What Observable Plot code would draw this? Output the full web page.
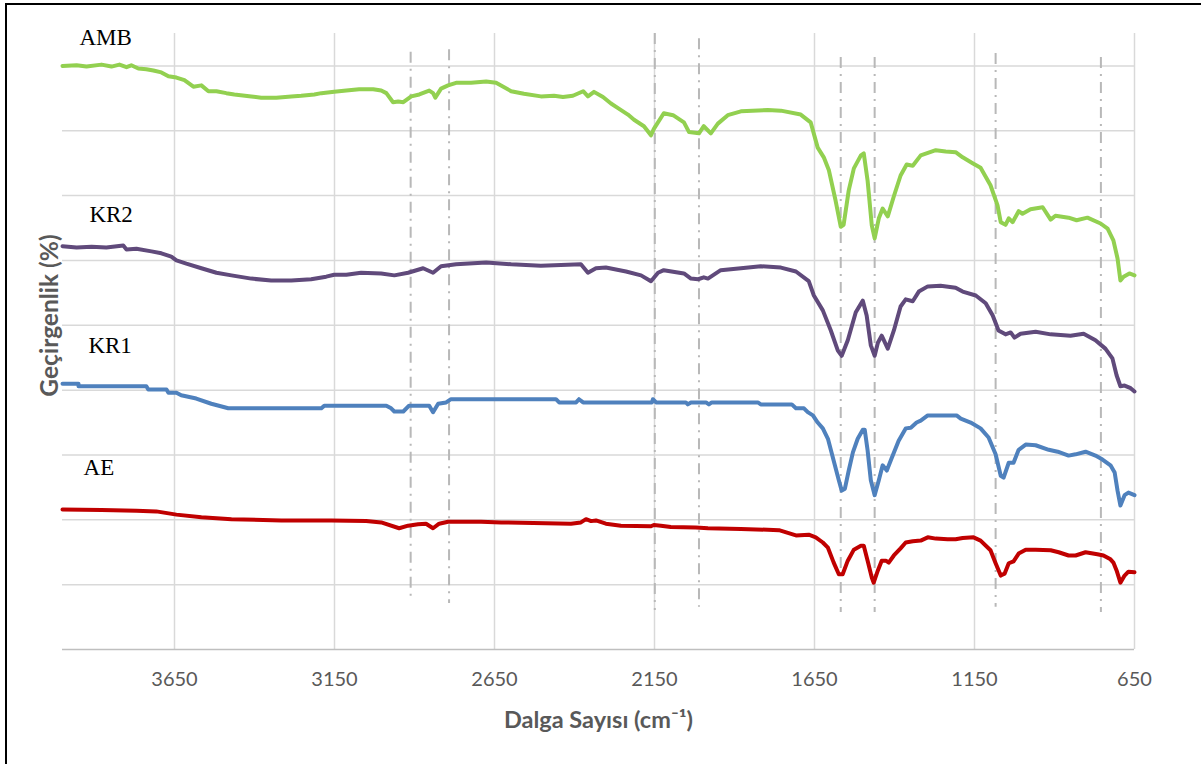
<!DOCTYPE html>
<html>
<head>
<meta charset="utf-8">
<script src="https://cdn.jsdelivr.net/npm/d3@7"></script>
<script src="https://cdn.jsdelivr.net/npm/@observablehq/plot@0.6"></script>
<style>
  body { margin: 0; background: #fff; }
  #wrap { position: relative; width: 1201px; height: 764px; overflow: hidden; background: #fff; }
  #wrap svg { position: absolute; left: 0; top: 0; }
  #frame { position: absolute; left: 5px; top: 3px; width: 1400px; height: 900px;
           border-left: 2.5px solid #000; border-top: 2.5px solid #000; pointer-events: none; }
</style>
</head>
<body>
<div id="wrap"><div id="frame"></div></div>
<script>
// FTIR spectra: [wavenumber (cm-1), transmittance (offset, %)]
const AMB = [[4000,90.0],[3956,90.1],[3925,89.9],[3878,90.2],[3847,89.9],[3822,90.2],[3800,89.8],[3785,90.1],[3763,89.6],[3738,89.5],[3716,89.3],[3691,89.0],[3669,88.4],[3644,88.2],[3619,87.8],[3591,86.8],[3566,87.0],[3544,86.1],[3519,86.1],[3488,85.8],[3463,85.6],[3410,85.3],[3379,85.1],[3332,85.1],[3285,85.3],[3254,85.4],[3213,85.6],[3191,85.8],[3151,86.0],[3113,86.2],[3073,86.4],[3029,86.4],[3004,86.2],[2988,85.8],[2967,84.4],[2951,84.5],[2935,84.4],[2910,85.3],[2885,85.6],[2854,86.2],[2842,85.8],[2835,85.1],[2817,86.5],[2795,87.0],[2770,87.4],[2723,87.4],[2676,87.6],[2645,87.4],[2598,86.1],[2558,85.7],[2505,85.3],[2464,85.4],[2436,85.2],[2405,85.4],[2373,86.1],[2358,85.3],[2339,86.0],[2311,85.2],[2286,84.2],[2264,83.5],[2233,82.5],[2214,81.7],[2183,80.7],[2161,79.3],[2152,80.3],[2121,82.7],[2092,82.4],[2058,81.3],[2042,79.8],[2011,79.6],[1996,80.7],[1974,79.6],[1952,81.1],[1921,82.4],[1880,83.0],[1796,83.2],[1755,83.1],[1693,82.5],[1662,81.3],[1640,77.4],[1621,75.9],[1605,73.9],[1584,69.2],[1568,65.2],[1559,65.5],[1543,70.8],[1527,74.2],[1505,76.2],[1496,76.5],[1484,72.3],[1471,65.4],[1462,63.4],[1449,66.5],[1437,68.0],[1421,66.8],[1402,69.9],[1381,73.1],[1362,74.8],[1343,74.6],[1318,76.2],[1271,77.0],[1240,76.8],[1209,76.7],[1187,75.9],[1156,75.0],[1131,74.3],[1100,71.6],[1078,68.5],[1068,65.9],[1053,65.5],[1043,66.5],[1031,65.9],[1012,67.6],[1000,67.2],[975,67.9],[937,68.2],[912,66.3],[897,66.9],[856,66.6],[831,66.2],[797,66.6],[756,65.7],[734,64.9],[716,63.1],[703,60.3],[694,56.9],[684,57.5],[666,58.0],[650,57.7]];

const KR2 = [[4000,62.2],[3956,62.0],[3909,62.1],[3863,62.0],[3810,62.3],[3800,61.7],[3769,61.8],[3722,61.4],[3691,61.1],[3660,60.6],[3644,60.0],[3613,59.5],[3566,58.8],[3519,58.1],[3472,57.7],[3410,57.2],[3348,56.9],[3285,56.9],[3223,57.1],[3176,57.5],[3151,57.8],[3113,57.8],[3067,58.1],[3004,58.0],[2963,57.7],[2920,58.1],[2873,58.8],[2842,58.1],[2817,59.1],[2770,59.4],[2676,59.7],[2598,59.4],[2505,59.2],[2380,59.4],[2358,58.1],[2333,58.8],[2302,58.9],[2239,58.3],[2192,57.7],[2161,56.8],[2139,58.1],[2121,58.5],[2058,58.0],[2036,57.2],[2014,57.1],[1996,57.4],[1983,57.2],[1943,58.5],[1880,58.8],[1818,59.1],[1755,58.9],[1708,58.3],[1668,56.8],[1652,54.6],[1624,52.3],[1599,49.2],[1577,46.1],[1565,45.3],[1546,47.7],[1521,52.0],[1499,53.8],[1487,51.5],[1474,46.9],[1462,45.3],[1452,47.3],[1440,48.4],[1421,46.4],[1402,49.2],[1381,52.9],[1365,54.0],[1343,53.7],[1324,55.2],[1296,56.0],[1256,56.1],[1209,55.8],[1187,55.2],[1146,54.6],[1115,53.4],[1093,51.5],[1075,49.2],[1053,48.6],[1037,48.9],[1025,48.1],[1006,48.7],[959,49.0],[912,48.6],[850,48.4],[809,48.7],[772,47.7],[741,46.4],[719,44.9],[706,42.3],[694,40.6],[681,40.7],[662,40.3],[650,39.8]];

const KR1 = [[4000,41.0],[3950,41.0],[3950,40.6],[3738,40.6],[3732,40.1],[3675,40.1],[3669,39.6],[3644,39.6],[3629,39.2],[3582,38.7],[3535,37.9],[3482,37.2],[3191,37.2],[3182,37.6],[2988,37.6],[2973,37.2],[2963,36.7],[2935,36.7],[2917,37.6],[2854,37.6],[2842,36.6],[2826,37.9],[2801,38.1],[2786,38.6],[2458,38.6],[2448,38.1],[2395,38.1],[2386,38.6],[2373,38.1],[2158,38.1],[2155,38.6],[2145,38.1],[2052,38.1],[2046,37.8],[2036,38.1],[1989,38.1],[1980,37.8],[1971,38.1],[1827,38.1],[1818,37.8],[1721,37.8],[1708,37.2],[1683,37.2],[1671,36.6],[1655,36.1],[1640,35.0],[1624,34.1],[1608,32.5],[1590,29.1],[1574,26.1],[1565,24.5],[1555,24.8],[1543,27.6],[1530,30.4],[1515,32.5],[1499,33.9],[1493,33.9],[1484,30.7],[1474,26.1],[1462,23.8],[1449,26.1],[1437,28.4],[1424,27.6],[1409,29.5],[1387,32.2],[1365,34.1],[1349,34.2],[1331,35.0],[1318,35.3],[1296,36.1],[1206,36.1],[1193,35.6],[1162,35.0],[1131,34.1],[1106,32.7],[1084,30.1],[1068,26.8],[1059,26.5],[1043,28.8],[1028,28.8],[1012,30.8],[990,31.6],[959,31.5],[918,30.8],[890,30.5],[856,29.9],[834,30.1],[803,30.5],[772,29.9],[750,29.3],[725,28.4],[712,27.3],[703,24.5],[694,22.2],[681,23.8],[669,24.2],[650,23.8]];

const AE = [[4000,21.6],[3878,21.5],[3769,21.4],[3707,21.3],[3644,20.8],[3566,20.4],[3472,20.1],[3316,19.9],[3160,19.9],[3051,19.8],[3004,19.6],[2948,18.7],[2920,19.1],[2889,19.3],[2864,19.4],[2842,18.7],[2823,19.4],[2795,19.7],[2692,19.7],[2629,19.6],[2411,19.4],[2380,19.6],[2364,20.1],[2348,19.8],[2333,19.9],[2302,19.4],[2255,19.1],[2161,19.0],[2152,19.2],[2130,19.1],[2099,18.9],[2021,18.8],[1983,18.7],[1880,18.6],[1761,18.4],[1708,17.6],[1668,17.7],[1646,17.3],[1624,16.5],[1608,15.7],[1590,13.4],[1574,11.6],[1562,11.6],[1546,13.7],[1527,15.4],[1505,16.0],[1496,16.0],[1484,13.7],[1471,11.1],[1465,10.3],[1452,12.2],[1440,13.7],[1427,13.7],[1418,13.4],[1402,14.5],[1381,15.6],[1365,16.5],[1343,16.7],[1318,16.8],[1296,17.3],[1271,17.1],[1234,17.0],[1209,17.0],[1187,17.2],[1153,17.3],[1131,16.8],[1100,15.3],[1084,13.3],[1068,11.4],[1056,11.7],[1043,13.3],[1028,13.6],[1012,14.8],[990,15.4],[959,15.4],[912,15.3],[887,15.0],[856,14.5],[834,14.5],[803,15.0],[766,14.7],[747,14.5],[725,13.9],[716,13.4],[706,12.2],[694,10.3],[681,11.4],[669,12.0],[650,11.9]];

const seriesNames = ["AMB", "KR2", "KR1", "AE"];
const seriesColors = ["#92d050", "#604a7b", "#4f81bd", "#c00000"];

// Series name labels: wavenumber and transmittance where each name sits
const labelWn = [3947, 3916, 3919, 3934];
const labelT = [94.4, 67.0, 46.8, 28.0];

// Characteristic band positions (dash-dot guides) and their vertical extent
const bandWn = [2912, 2792, 2149, 2011, 1568, 1462, 1084, 755];
const bandTop = [92.1, 92.5, 95.0, 94.2, 91.3, 91.3, 91.9, 91.3];
const bandBottom = [8.0, 7.1, 6.0, 6.5, 5.7, 5.7, 6.5, 5.7];

const xTicks = [3650, 3150, 2650, 2150, 1650, 1150, 650];
const yGrid = [10, 20, 30, 40, 50, 60, 70, 80, 90];

const xTitle = "Dalga Sayısı (cm\u207B\u00B9)";
const yTitle = "Geçirgenlik (%)";

const spectra = [AMB, KR2, KR1, AE];
const rows = seriesNames.flatMap((name, i) =>
  spectra[i].map(([wn, t]) => ({name, wn, t})));
const labels = seriesNames.map((name, i) => ({name, wn: labelWn[i], t: labelT[i]}));
const bands = bandWn.map((wn, i) => ({wn, top: bandTop[i], bottom: bandBottom[i]}));

const uiFont = "Lato, 'Open Sans', 'DejaVu Sans', sans-serif";

const chart = Plot.plot({
  width: 1201,
  height: 764,
  marginLeft: 62,
  marginRight: 67,
  marginTop: 33,
  marginBottom: 115,
  style: {fontFamily: uiFont, background: "transparent", overflow: "visible"},
  x: {domain: [4000, 650]},
  y: {domain: [0, 95], axis: null},
  color: {domain: seriesNames, range: seriesColors},
  marks: [
    Plot.gridY(yGrid, {stroke: "#d9d9d9", strokeOpacity: 1, strokeWidth: 1.5}),
    Plot.gridX(xTicks, {stroke: "#d9d9d9", strokeOpacity: 1, strokeWidth: 1.5}),
    Plot.ruleY([0], {stroke: "#bfbfbf", strokeWidth: 1.5}),
    Plot.axisX(xTicks, {
      tickSize: 0, tickPadding: 22, fontSize: 20, color: "#595959",
      tickFormat: d => String(d), label: null
    }),
    Plot.ruleX(bands, {
      x: "wn", y1: "top", y2: "bottom",
      stroke: "#b8b8b8", strokeWidth: 2, strokeDasharray: "11,6,2,6"
    }),
    Plot.line(rows, {
      x: "wn", y: "t", z: "name", stroke: "name",
      strokeWidth: 4, strokeLinejoin: "round", strokeLinecap: "round"
    }),
    Plot.text(labels, {
      x: "wn", y: "t", text: "name", textAnchor: "start", lineAnchor: "middle",
      fontFamily: "'Times New Roman', 'Liberation Serif', serif", fontSize: 23, fill: "#000"
    }),
    Plot.text([yTitle], {
      text: d => d, frameAnchor: "left", dx: -12, dy: -26, rotate: -90,
      textAnchor: "middle", lineAnchor: "middle",
      fontSize: 24.5, fontWeight: "bold", fill: "#595959"
    }),
    Plot.text([xTitle], {
      text: d => d, frameAnchor: "bottom", dy: 71, lineAnchor: "middle",
      fontSize: 23.5, fontWeight: "bold", fill: "#595959"
    })
  ]
});

document.getElementById("wrap").insertBefore(chart, document.getElementById("frame"));
</script>
</body>
</html>
